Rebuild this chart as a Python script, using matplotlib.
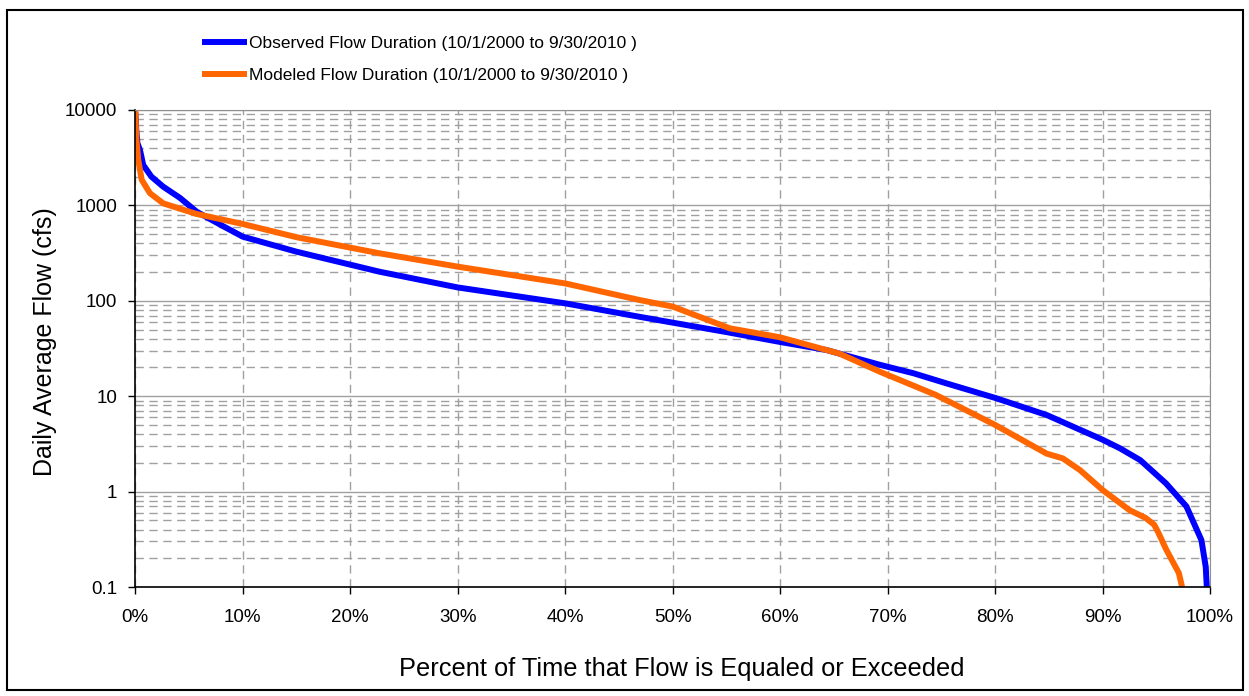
import numpy as np
import matplotlib.pyplot as plt
from matplotlib.ticker import FixedLocator, FuncFormatter, LogLocator, NullFormatter
from matplotlib.patches import Rectangle

plt.rcParams['font.family'] = ['Liberation Sans', 'DejaVu Sans']

# --- Dados ---
obs_pct = [0, 0.1, 0.2, 0.44, 0.74, 1.5, 2.6, 4.15, 5.7, 8, 10, 15, 22.7, 30, 40,
           46.9, 50, 55, 60, 64.3, 69.3, 72.4, 75.5, 80, 84.8, 90, 91.6, 93.5, 95.9, 97.8,
           99.2, 99.6, 99.7]
obs_flow = [9500, 6000, 4500, 3800, 2650, 2000, 1570, 1200, 860, 620, 470, 327, 202, 138, 94,
            68, 59, 47, 37, 30.5, 21.3, 17.4, 13.6, 9.6, 6.35, 3.5, 2.85, 2.14, 1.22, 0.70,
            0.31, 0.163, 0.1]

mod_pct = [0, 0.1, 0.28, 0.6, 1.37, 2.6, 5.7, 10, 15, 22.7, 30, 40, 41.3, 46.9, 50,
           55.3, 60, 65.5, 69.3, 74.5, 80, 84.8, 86.3, 87.9, 90, 92.5, 94.0, 94.8, 95.2, 95.9,
           97.1, 97.4]
mod_flow = [10000, 5000, 3000, 1850, 1340, 1050, 813, 638, 464, 315, 228, 152, 141, 102, 87,
            51.5, 41.4, 28, 18, 10.3, 5.0, 2.5, 2.23, 1.68, 1.04, 0.64, 0.53, 0.45, 0.37, 0.25,
            0.14, 0.1]

obs_label = 'Observed Flow Duration (10/1/2000 to 9/30/2010 )'
mod_label = 'Modeled Flow Duration (10/1/2000 to 9/30/2010 )'

x_ticks = list(range(0, 101, 10))
y_ticks = [0.1, 1, 10, 100, 1000, 10000]

# --- Figura ---
fig = plt.figure(figsize=(12.49, 6.96), dpi=100)
ax = fig.add_axes([0.1083, 0.1566, 0.8605, 0.6854])

ax.plot(obs_pct, obs_flow, color='#0000FF', lw=4.3, label=obs_label, solid_capstyle='butt')
ax.plot(mod_pct, mod_flow, color='#FF6600', lw=4.3, label=mod_label, solid_capstyle='butt')

ax.set_yscale('log')
ax.set_ylim(0.1, 10000)
ax.set_xlim(0, 100)

ax.yaxis.set_major_locator(FixedLocator(y_ticks))
ax.yaxis.set_major_formatter(FuncFormatter(lambda v, p: f'{v:g}'))
ax.yaxis.set_minor_locator(LogLocator(base=10, subs=np.arange(2, 10), numticks=20))
ax.yaxis.set_minor_formatter(NullFormatter())
ax.set_xticks(x_ticks)
ax.set_xticklabels([f'{t}%' for t in x_ticks])

ax.tick_params(axis='both', which='major', labelsize=13.5, direction='out', length=5,
               width=1, color='black')
ax.tick_params(axis='y', which='major', pad=8)
ax.tick_params(axis='x', which='major', pad=11)
ax.tick_params(axis='y', which='minor', length=0)

ax.grid(True, axis='y', which='major', color='#a0a0a0', lw=1, ls='-')
ax.grid(True, axis='y', which='minor', color='#a0a0a0', lw=1, ls=(0, (6, 4)))
ax.grid(True, axis='x', which='major', color='#a0a0a0', lw=1, ls=(0, (6, 4)))
ax.set_axisbelow(True)

for s in ['top', 'right']:
    ax.spines[s].set_color('#909090')
for s in ['left', 'bottom']:
    ax.spines[s].set_color('black')
    ax.spines[s].set_linewidth(1.2)

ax.set_ylabel('Daily Average Flow (cfs)', fontsize=18, labelpad=6)
ax.yaxis.label.set_y(0.515)
ax.set_xlabel('Percent of Time that Flow is Equaled or Exceeded', fontsize=18.3, labelpad=22)
ax.xaxis.label.set_x(0.5087)

# legenda fora dos eixos, no topo
leg = fig.legend(loc='upper left', bbox_to_anchor=(0.149, 0.971), frameon=False,
                 handlelength=2.6, handletextpad=0.1, labelspacing=0.95,
                 prop={'size': 12.5})

# moldura da figura
fig.patches.append(Rectangle((7 / 1249, 1 - 690 / 696), 1236 / 1249, 680 / 696,
                             transform=fig.transFigure, fill=False, edgecolor='black', lw=1.5))

fig.savefig('out.png', dpi=100)
